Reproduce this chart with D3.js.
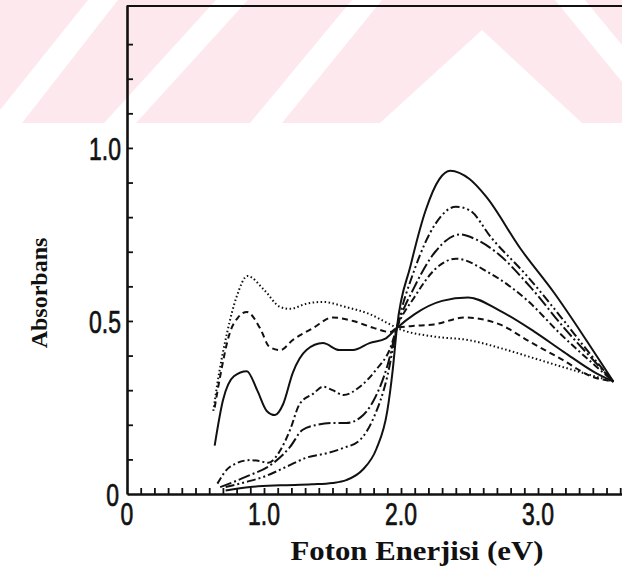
<!DOCTYPE html>
<html>
<head>
<meta charset="utf-8">
<script src="https://cdn.jsdelivr.net/npm/d3@7"></script>
<style>
  html, body { margin: 0; padding: 0; background: #fff; }
  svg { display: block; }
</style>
</head>
<body>
<svg id="chart" width="622" height="573"></svg>
<script>
// ---------- data ----------
const xTickValues = [0, 1, 2, 3];
const xTickLabels = ["0", "1.0", "2.0", "3.0"];
const yTickValues = [0, 0.5, 1.0];
const yTickLabels = ["0", "0.5", "1.0"];
const xTitle = "Foton Enerjisi (eV)";
const yTitle = "Absorbans";

// seven spectra, [photon energy eV, absorbance]
const curveA = [[0.72,0.01],[0.9,0.02],[1.12,0.025],[1.35,0.028],[1.5,0.032],[1.6,0.04],[1.72,0.07],[1.82,0.13],[1.9,0.24],[1.94,0.36],[1.97,0.48],[2.07,0.66],[2.18,0.82],[2.28,0.91],[2.36,0.934],[2.5,0.91],[2.62,0.86],[2.87,0.71],[3.12,0.58],[3.36,0.44],[3.55,0.325]];
const curveB = [[0.72,0.02],[0.87,0.035],[1.0,0.05],[1.17,0.08],[1.31,0.105],[1.46,0.118],[1.58,0.133],[1.7,0.156],[1.8,0.22],[1.9,0.34],[1.97,0.48],[2.1,0.65],[2.25,0.78],[2.4,0.83],[2.5,0.82],[2.66,0.74],[2.92,0.63],[3.17,0.51],[3.39,0.40],[3.55,0.325]];
const curveC = [[0.68,0.02],[0.87,0.05],[1.07,0.09],[1.19,0.136],[1.28,0.185],[1.39,0.2],[1.5,0.205],[1.6,0.205],[1.7,0.22],[1.8,0.27],[1.9,0.37],[1.97,0.48],[2.1,0.6],[2.25,0.70],[2.43,0.75],[2.55,0.735],[2.69,0.70],[2.94,0.60],[3.19,0.48],[3.42,0.38],[3.55,0.325]];
const curveD = [[0.66,0.03],[0.75,0.078],[0.9,0.098],[0.97,0.095],[1.03,0.09],[1.12,0.127],[1.19,0.185],[1.26,0.26],[1.36,0.29],[1.43,0.31],[1.5,0.30],[1.58,0.286],[1.7,0.31],[1.82,0.36],[1.92,0.42],[1.97,0.48],[2.1,0.57],[2.25,0.65],[2.4,0.68],[2.64,0.64],[2.92,0.56],[3.17,0.46],[3.42,0.37],[3.55,0.325]];
const curveE = [[0.64,0.14],[0.7,0.27],[0.78,0.34],[0.875,0.355],[0.95,0.30],[1.02,0.24],[1.08,0.228],[1.14,0.26],[1.21,0.35],[1.31,0.416],[1.43,0.436],[1.55,0.416],[1.65,0.416],[1.77,0.436],[1.89,0.45],[1.97,0.48],[2.1,0.52],[2.3,0.558],[2.49,0.568],[2.72,0.53],[2.97,0.47],[3.19,0.41],[3.42,0.35],[3.55,0.325]];
const curveF = [[0.64,0.25],[0.68,0.34],[0.75,0.465],[0.81,0.51],[0.875,0.526],[0.97,0.48],[1.04,0.425],[1.12,0.416],[1.21,0.445],[1.36,0.48],[1.5,0.51],[1.65,0.50],[1.8,0.48],[1.92,0.468],[1.97,0.48],[2.07,0.485],[2.24,0.49],[2.47,0.51],[2.72,0.49],[2.94,0.44],[3.17,0.39],[3.39,0.34],[3.55,0.325]];
const curveG = [[0.63,0.24],[0.66,0.32],[0.73,0.465],[0.8,0.57],[0.88,0.63],[1.0,0.59],[1.12,0.54],[1.19,0.535],[1.31,0.55],[1.43,0.555],[1.6,0.54],[1.77,0.52],[1.92,0.49],[1.97,0.48],[2.24,0.455],[2.49,0.445],[2.74,0.42],[2.99,0.39],[3.24,0.36],[3.55,0.325]];

const seriesList = [curveA, curveB, curveC, curveD, curveE, curveF, curveG];
const seriesDash = ["none", "9,3,2,3,2,3", "12,3,2,3", "7,3,2,3", "none", "6,4", "1.5,2.5"];

// ---------- layout ----------
const svg = d3.select("#chart");
const x = d3.scaleLinear().domain([0, 3.613]).range([127, 622]);
const y = d3.scaleLinear().domain([0, 1.413]).range([494, 5]);

// watermark (background decoration)
const wm = svg.append("g");
wm.append("rect").attr("x", 0).attr("y", 0).attr("width", 622).attr("height", 123).attr("fill", "#fde8ed");
const white = "#ffffff";
const wmPolys = [
  [[0,110],[0,123],[22,123],[118,0],[88,0]],
  [[104,123],[136,123],[248,0],[216,0]],
  [[250,123],[282,123],[382,0],[352,0]],
  [[380,123],[482,30],[582,123]],
  [[555,0],[585,0],[622,45],[622,82]]
];
wmPolys.forEach(p => wm.append("polygon").attr("points", p.map(d => d.join(",")).join(" ")).attr("fill", white));

// top frame line
svg.append("line").attr("x1", x(0)).attr("x2", 622).attr("y1", 6).attr("y2", 6)
  .attr("stroke", "#111").attr("stroke-width", 2);

// axes with inward minor ticks
const yMinor = d3.range(1, 14).map(i => i / 10);
const xMinor = d3.range(1, 37).map(i => i / 10);

const gy = svg.append("g").attr("transform", `translate(${x(0)},0)`)
  .call(d3.axisLeft(y).tickValues(yMinor).tickSize(-6).tickSizeOuter(0).tickFormat(""));
const gx = svg.append("g").attr("transform", `translate(0,${y(0)})`)
  .call(d3.axisBottom(x).tickValues(xMinor).tickSize(-6).tickSizeOuter(0).tickFormat(""));
[gx, gy].forEach(g => {
  g.select(".domain").attr("stroke", "#111").attr("stroke-width", 2.6);
  g.selectAll(".tick line").attr("stroke", "#111").attr("stroke-width", 1.8);
});

// curves
const line = d3.line().x(d => x(d[0])).y(d => y(d[1])).curve(d3.curveMonotoneX);
seriesList.forEach((s, i) => {
  svg.append("path").datum(s).attr("d", line)
    .attr("fill", "none").attr("stroke", "#111").attr("stroke-width", 2)
    .attr("stroke-linejoin", "round")
    .attr("stroke-dasharray", seriesDash[i] === "none" ? null : seriesDash[i]);
});

// tick labels (condensed look)
function condense(sel, f) {
  sel.each(function () {
    const w = this.getComputedTextLength();
    d3.select(this).attr("textLength", w * f).attr("lengthAdjust", "spacingAndGlyphs");
  });
}
const lblFont = "'Liberation Sans', Arial, sans-serif";
const xl = svg.append("g").selectAll("text").data(xTickValues).join("text")
  .attr("x", d => x(d)).attr("y", y(0) + 31)
  .attr("text-anchor", "middle").attr("font-family", lblFont).attr("font-size", 31)
  .attr("fill", "#111").attr("stroke", "#111").attr("stroke-width", 0.7)
  .text((d, i) => xTickLabels[i]);
condense(xl, 0.74);
const yl = svg.append("g").selectAll("text").data(yTickValues).join("text")
  .attr("x", d => d === 0 ? x(0) - 8 : x(0) - 6).attr("y", d => y(d) + 12)
  .attr("text-anchor", "end").attr("font-family", lblFont).attr("font-size", 31)
  .attr("fill", "#111").attr("stroke", "#111").attr("stroke-width", 0.7)
  .text((d, i) => yTickLabels[i]);
condense(yl, 0.74);

// axis titles
svg.append("text").attr("x", 417).attr("y", 560).attr("text-anchor", "middle")
  .attr("font-family", "'Liberation Serif', 'Times New Roman', serif").attr("font-weight", "bold")
  .attr("font-size", 28).attr("fill", "#111")
  .attr("textLength", 253).attr("lengthAdjust", "spacingAndGlyphs")
  .text(xTitle);
svg.append("text").attr("transform", "translate(47,293) rotate(-90)").attr("text-anchor", "middle")
  .attr("font-family", "'Liberation Serif', 'Times New Roman', serif").attr("font-weight", "bold")
  .attr("font-size", 24).attr("fill", "#111").text(yTitle);
</script>
</body>
</html>
